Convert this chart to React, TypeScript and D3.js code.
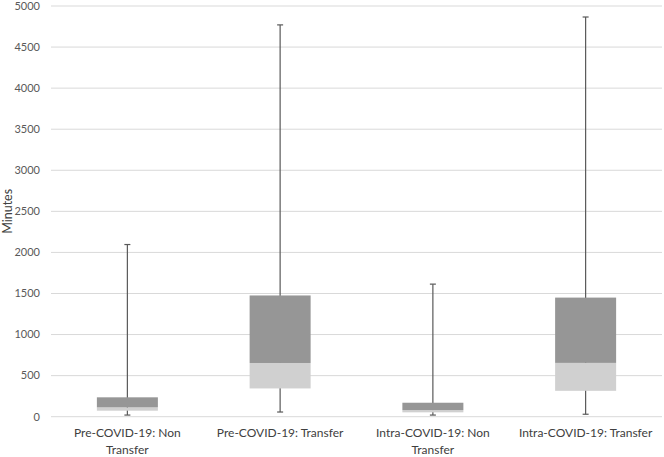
import React from "react";
import * as d3 from "d3";

const categories = [
  ["Pre-COVID-19: Non", "Transfer"],
  ["Pre-COVID-19: Transfer"],
  ["Intra-COVID-19: Non", "Transfer"],
  ["Intra-COVID-19: Transfer"],
];
const mins = [20, 57, 20, 30];
const q1s = [73, 344, 53, 315];
const medians = [114, 654, 81, 655];
const q3s = [236, 1476, 170, 1450];
const maxs = [2096, 4770, 1614, 4866];
const yTicks = [0, 500, 1000, 1500, 2000, 2500, 3000, 3500, 4000, 4500, 5000];

export default function App() {
  const W = 664, H = 457;
  const left = 51, right = 662, top = 6, bottom = 416.7;
  const x = d3.scaleBand<number>().domain(categories.map((_, i) => i)).range([left, right]);
  const y = d3.scaleLinear().domain([0, 5000]).range([bottom, top]);
  const bw = 61;
  const font = "Lato, 'Open Sans', 'Liberation Sans', sans-serif";
  return (
    <svg width={W} height={H} style={{ position: "absolute", left: 0, top: 0, background: "#fff" }} fontFamily={font}>
      {yTicks.map((t) => (
        <g key={t}>
          <line x1={left} x2={right} y1={y(t)} y2={y(t)} stroke="#d9d9d9" strokeWidth={1} />
          <text x={40} y={y(t)} dy="0.35em" textAnchor="end" fontSize={11} fill="#595959">{t}</text>
        </g>
      ))}
      <text transform={`translate(12,${(top + bottom) / 2}) rotate(-90)`} textAnchor="middle" fontSize={12.5} fill="#404040">Minutes</text>
      {categories.map((c, i) => {
        const cx = (x(i) as number) + x.bandwidth() / 2;
        return (
          <g key={i}>
            <line x1={cx} x2={cx} y1={y(maxs[i])} y2={y(mins[i])} stroke="#595959" strokeWidth={1.2} />
            <line x1={cx - 3} x2={cx + 3} y1={y(maxs[i])} y2={y(maxs[i])} stroke="#595959" strokeWidth={1.2} />
            <line x1={cx - 3} x2={cx + 3} y1={y(mins[i])} y2={y(mins[i])} stroke="#595959" strokeWidth={1.2} />
            <rect x={cx - bw / 2} width={bw} y={y(medians[i])} height={y(q1s[i]) - y(medians[i])} fill="#d0d0d0" />
            <rect x={cx - bw / 2} width={bw} y={y(q3s[i])} height={y(medians[i]) - y(q3s[i])} fill="#969696" />
            {c.map((line, j) => (
              <text key={j} x={cx} y={433 + j * 16.5} dy="0.35em" textAnchor="middle" fontSize={12} fill="#404040">{line}</text>
            ))}
          </g>
        );
      })}
    </svg>
  );
}
